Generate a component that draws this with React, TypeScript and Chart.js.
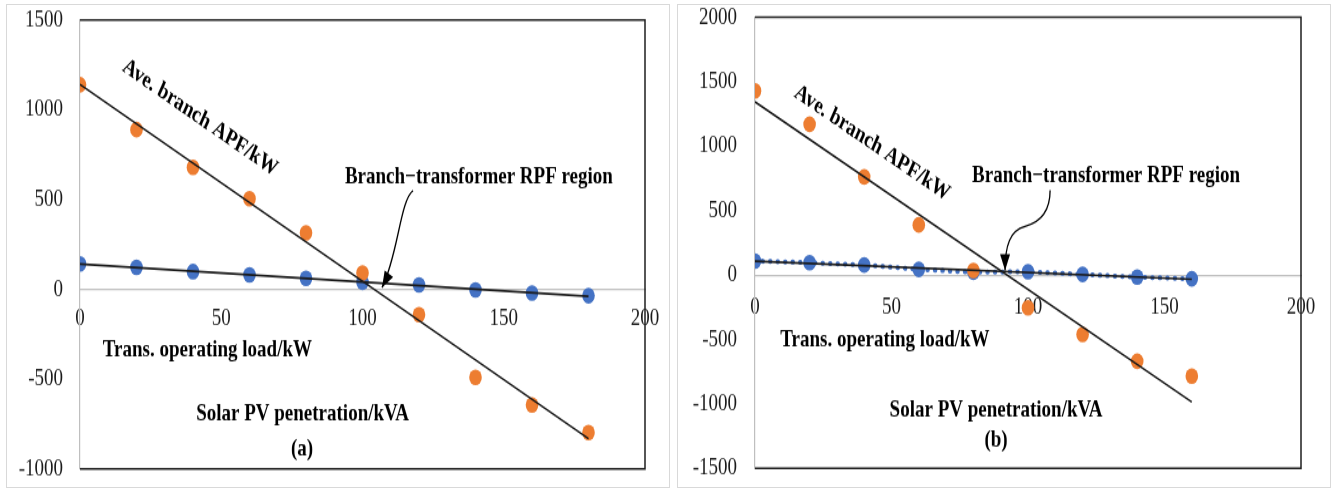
import React, { useEffect, useRef } from "react";
import { Chart, registerables } from "chart.js";

Chart.register(...registerables);

// ---------- Panel (a) data ----------
const penetrationA = [0, 20, 40, 60, 80, 100, 120, 140, 160, 180];
const branchApfA = [1140, 890, 680, 505, 315, 92, -141, -490, -643, -797];
const transLoadA = [142, 123, 99, 81, 62, 40, 25, -3, -20, -35];
const yTicksA = [-1000, -500, 0, 500, 1000, 1500];

// ---------- Panel (b) data ----------
const penetrationB = [0, 20, 40, 60, 80, 100, 120, 140, 160];
const branchApfB = [1430, 1170, 762, 389, 36, -254, -461, -669, -785];
const transLoadB = [109, 96, 78, 44, 22, 26, 5, -16, -29];
const yTicksB = [-1500, -1000, -500, 0, 500, 1000, 1500, 2000];

const xTicks = [0, 50, 100, 150, 200];

const labelApf = "Ave. branch APF/kW";
const labelRegion = "Branch\u2212transformer RPF region";
const labelLoad = "Trans. operating load/kW";
const labelPv = "Solar PV penetration/kVA";

const ORANGE = "#ED7D31";
const BLUE = "#4472C4";
const FONT = '"Liberation Serif", "Times New Roman", serif';

type Pt = { x: number; y: number };

function trend(xs: number[], ys: number[]): Pt[] {
  const n = xs.length;
  const mx = xs.reduce((a, b) => a + b, 0) / n;
  const my = ys.reduce((a, b) => a + b, 0) / n;
  let sxy = 0;
  let sxx = 0;
  for (let i = 0; i < n; i++) {
    sxy += (xs[i] - mx) * (ys[i] - my);
    sxx += (xs[i] - mx) * (xs[i] - mx);
  }
  const m = sxy / sxx;
  const b = my - m * mx;
  return [
    { x: xs[0], y: m * xs[0] + b },
    { x: xs[n - 1], y: m * xs[n - 1] + b },
  ];
}

interface Annot {
  text: string;
  x: number;
  y: number;
  rotate?: boolean;
}

interface Spec {
  xs: number[];
  apf: number[];
  load: number[];
  yTicks: number[];
  dotted: boolean;
  box: { left: number; top: number; width: number; height: number };
  innerH: number;
  padding: { left: number; right: number; top: number; bottom: number };
  yAxisWidth: number;
  yTickPad: number;
  xTickPad: number;
  labels: Annot[];
  arrow: Pt[];
}

const specA: Spec = {
  xs: penetrationA,
  apf: branchApfA,
  load: transLoadA,
  yTicks: yTicksA,
  dotted: false,
  box: { left: 6, top: 4, width: 664, height: 484 },
  innerH: 386,
  padding: { left: 0, right: 25, top: 12.8, bottom: 15.2 },
  yAxisWidth: 74,
  yTickPad: 17,
  xTickPad: 14,
  labels: [
    { text: labelApf, x: 42.5, y: 955, rotate: true },
    { text: labelRegion, x: 141.2, y: 624 },
    { text: labelLoad, x: 45.1, y: -342 },
    { text: labelPv, x: 78.8, y: -693 },
    { text: "(a)", x: 78.6, y: -888 },
  ],
  arrow: [
    { x: 117.9, y: 551 },
    { x: 113.3, y: 496 },
    { x: 112.6, y: 189 },
    { x: 106.9, y: 10 },
  ],
};

const specB: Spec = {
  xs: penetrationB,
  apf: branchApfB,
  load: transLoadB,
  yTicks: yTicksB,
  dotted: true,
  box: { left: 677, top: 4, width: 654, height: 484 },
  innerH: 386,
  padding: { left: 0, right: 30, top: 10.6, bottom: 15.7 },
  yAxisWidth: 78,
  yTickPad: 18,
  xTickPad: 16.5,
  labels: [
    { text: labelApf, x: 42.9, y: 1023, rotate: true },
    { text: labelRegion, x: 128.6, y: 774 },
    { text: labelLoad, x: 47.6, y: -509 },
    { text: labelPv, x: 88.3, y: -1054 },
    { text: "(b)", x: 88.3, y: -1287 },
  ],
  arrow: [
    { x: 108.1, y: 657 },
    { x: 108.1, y: 486 },
    { x: 104.4, y: 408 },
    { x: 98.9, y: 377 },
    { x: 93.4, y: 346 },
    { x: 91.6, y: 229 },
    { x: 91.6, y: 35 },
  ],
};

function Panel({ spec }: { spec: Spec }) {
  const ref = useRef<HTMLCanvasElement>(null);
  const W = spec.box.width;
  const H = spec.innerH;
  const S = spec.box.height / H;

  useEffect(() => {
    const canvas = ref.current!;
    const apfTrend = trend(spec.xs, spec.apf);
    const loadTrend = trend(spec.xs, spec.load);
    const pts = (ys: number[]) => spec.xs.map((x, i) => ({ x, y: ys[i] }));

    const overlay = {
      id: "overlay",
      afterDatasetsDraw(chart: any) {
        const { ctx, chartArea: a, scales } = chart;
        const sx = scales.x;
        const sy = scales.y;
        ctx.save();
        // plot-area frame (top, right, bottom)
        ctx.strokeStyle = "#1f1f1f";
        ctx.lineWidth = 1.5;
        ctx.beginPath();
        ctx.moveTo(a.left, a.top);
        ctx.lineTo(a.right, a.top);
        ctx.lineTo(a.right, a.bottom);
        ctx.lineTo(a.left, a.bottom);
        ctx.stroke();

        // labels
        const p0x = sx.getPixelForValue(apfTrend[0].x);
        const p0y = sy.getPixelForValue(apfTrend[0].y);
        const p1x = sx.getPixelForValue(apfTrend[1].x);
        const p1y = sy.getPixelForValue(apfTrend[1].y);
        const ang = Math.atan2(p1y - p0y, p1x - p0x);
        ctx.fillStyle = "#000";
        ctx.font = `bold 19px ${FONT}`;
        ctx.textAlign = "center";
        ctx.textBaseline = "middle";
        for (const l of spec.labels) {
          const px = sx.getPixelForValue(l.x);
          const py = sy.getPixelForValue(l.y);
          ctx.save();
          ctx.translate(px, py);
          if (l.rotate) ctx.rotate(ang);
          ctx.fillText(l.text, 0, 0);
          ctx.restore();
        }

        // curved arrow
        const P = spec.arrow.map((p) => ({
          x: sx.getPixelForValue(p.x),
          y: sy.getPixelForValue(p.y),
        }));
        ctx.strokeStyle = "#000";
        ctx.lineWidth = 1.3;
        ctx.beginPath();
        ctx.moveTo(P[0].x, P[0].y);
        for (let i = 1; i + 2 < P.length; i += 3) {
          ctx.bezierCurveTo(P[i].x, P[i].y, P[i + 1].x, P[i + 1].y, P[i + 2].x, P[i + 2].y);
        }
        ctx.stroke();
        const tip = P[P.length - 1];
        const prev = P[P.length - 2];
        const d = Math.atan2(tip.y - prev.y, tip.x - prev.x);
        const len = 13;
        const hw = 5;
        const bx = tip.x - len * Math.cos(d);
        const by = tip.y - len * Math.sin(d);
        ctx.fillStyle = "#000";
        ctx.beginPath();
        ctx.moveTo(tip.x, tip.y);
        ctx.lineTo(bx + hw * Math.sin(d), by - hw * Math.cos(d));
        ctx.lineTo(bx - hw * Math.sin(d), by + hw * Math.cos(d));
        ctx.closePath();
        ctx.fill();
        ctx.restore();
      },
    };

    const tickFont = { family: FONT, size: 19, lineHeight: 1 };
    const plain = (v: any) => String(v);

    const chart = new Chart(canvas, {
      type: "scatter",
      data: {
        datasets: [
          {
            type: "line",
            data: apfTrend,
            borderColor: "#1a1a1a",
            borderWidth: 1.6,
            pointRadius: 0,
            fill: false,
            order: 0,
          } as any,
          {
            type: "line",
            data: loadTrend,
            borderColor: "#1a1a1a",
            borderWidth: 1.6,
            pointRadius: 0,
            fill: false,
            order: 1,
          } as any,
          {
            data: pts(spec.apf),
            backgroundColor: ORANGE,
            borderColor: ORANGE,
            pointRadius: 6.3,
            pointBorderWidth: 0,
            order: 2,
          },
          {
            data: pts(spec.load),
            backgroundColor: BLUE,
            borderColor: BLUE,
            pointRadius: 6.3,
            pointBorderWidth: 0,
            showLine: spec.dotted,
            borderWidth: spec.dotted ? 4 : 0,
            borderDash: [0.5, 7],
            borderCapStyle: "round",
            order: 3,
          } as any,
        ],
      },
      options: {
        responsive: false,
        animation: false,
        events: [],
        layout: { padding: spec.padding },
        plugins: {
          legend: { display: false },
          tooltip: { enabled: false },
        },
        scales: {
          x: {
            type: "linear",
            min: xTicks[0],
            max: xTicks[xTicks.length - 1],
            position: { y: 0 } as any,
            grid: { display: false, drawTicks: false },
            border: { display: true, color: "#bfbfbf", width: 1.2 },
            ticks: {
              stepSize: xTicks[1] - xTicks[0],
              font: tickFont,
              color: "#1a1a1a",
              padding: spec.xTickPad,
              maxRotation: 0,
              autoSkip: false,
              callback: plain,
            },
            afterFit: (s: any) => {
              s.paddingLeft = 0;
              s.paddingRight = 0;
            },
          } as any,
          y: {
            type: "linear",
            position: "left",
            min: spec.yTicks[0],
            max: spec.yTicks[spec.yTicks.length - 1],
            grid: { display: false, drawTicks: false },
            border: { display: true, color: "#bfbfbf", width: 1.2 },
            ticks: {
              stepSize: spec.yTicks[1] - spec.yTicks[0],
              font: tickFont,
              color: "#1a1a1a",
              padding: spec.yTickPad,
              autoSkip: false,
              callback: plain,
            },
            afterFit: (s: any) => {
              s.width = spec.yAxisWidth;
              s.paddingTop = 0;
              s.paddingBottom = 0;
            },
          } as any,
        },
      },
      plugins: [overlay],
    } as any);
    return () => chart.destroy();
  }, []);

  return (
    <>
      <div
        style={{
          position: "absolute",
          left: spec.box.left,
          top: spec.box.top,
          width: spec.box.width,
          height: spec.box.height,
          boxSizing: "border-box",
          border: "1px solid #d9d9d9",
        }}
      />
      <div
        style={{
          position: "absolute",
          left: spec.box.left,
          top: spec.box.top,
          width: W,
          height: H,
          transform: `scale(1, ${S})`,
          transformOrigin: "0 0",
        }}
      >
        <canvas ref={ref} width={W} height={H} style={{ display: "block" }} />
      </div>
    </>
  );
}

export default function App() {
  return (
    <div
      style={{
        position: "fixed",
        left: 0,
        top: 0,
        width: 1336,
        height: 488,
        background: "#fff",
        overflow: "hidden",
      }}
    >
      <Panel spec={specA} />
      <Panel spec={specB} />
    </div>
  );
}
